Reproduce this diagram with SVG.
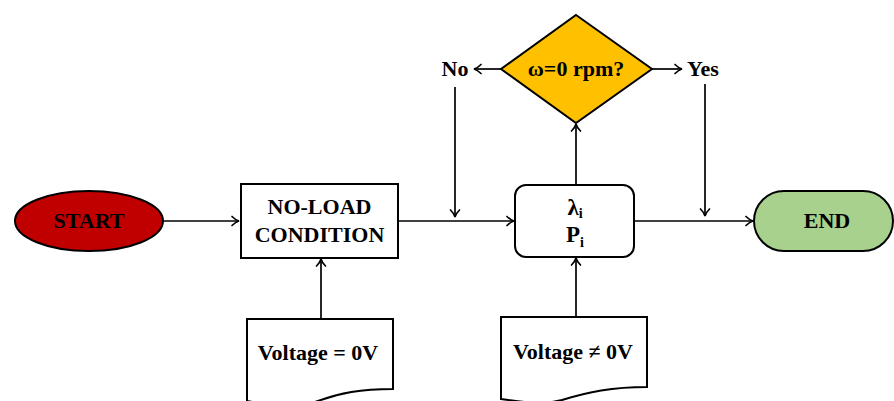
<svg xmlns="http://www.w3.org/2000/svg" width="894" height="401" viewBox="0 0 894 401">
<defs>
<style>
.shape{stroke:#000;stroke-width:2;}
.t{font-family:"Liberation Serif","Times New Roman",serif;font-weight:bold;font-size:22px;fill:#000;text-anchor:middle;}
.big{font-size:23px;}
.sub{font-size:14px;}
.conn{stroke:#000;stroke-width:1.7;fill:none;marker-end:url(#arr);}
</style>
<marker id="arr" markerUnits="userSpaceOnUse" viewBox="-10 -6 12 12" refX="0" refY="0" markerWidth="12" markerHeight="12" orient="auto">
<path d="M-7,-4.5 C-4.5,-2 -2,-0.5 0,0 C-2,0.5 -4.5,2 -7,4.5" fill="none" stroke="#000" stroke-width="1.7" stroke-linecap="round"/>
</marker>
</defs>
<rect width="894" height="401" fill="#fff"/>
<g id="connectors">
<line class="conn" x1="163" y1="221" x2="239" y2="221"/>
<line class="conn" x1="321" y1="319" x2="321" y2="259"/>
<line class="conn" x1="398" y1="221" x2="514" y2="221"/>
<line class="conn" x1="576" y1="185" x2="576" y2="124"/>
<line class="conn" x1="501" y1="69" x2="474" y2="69"/>
<line class="conn" x1="652" y1="69" x2="682" y2="69"/>
<line class="conn" x1="455" y1="87" x2="455" y2="217"/>
<line class="conn" x1="705" y1="84" x2="705" y2="216"/>
<line class="conn" x1="634" y1="221" x2="753" y2="221"/>
<line class="conn" x1="576" y1="317" x2="576" y2="258"/>
</g>
<g id="start">
<ellipse class="shape" cx="89" cy="221" rx="74" ry="30" fill="#C00000"/>
<text class="t" x="89" y="228">START</text>
</g>
<g id="noload">
<rect class="shape" x="241" y="184" width="157" height="74" fill="#fff"/>
<text class="t" x="319.5" y="214">NO-LOAD</text>
<text class="t" x="319.5" y="242">CONDITION</text>
</g>
<g id="doc0v">
<path class="shape" fill="#fff" d="M247,319 H393 V389 C360,389 340,393 318,401 C295,409 268,405 247,401 Z"/>
<text class="t" x="318" y="360">Voltage = 0V</text>
</g>
<g id="calc">
<rect class="shape" x="515" y="185" width="119" height="72" rx="11" fill="#fff"/>
<text class="t big" x="575" y="215">λ<tspan class="sub" dy="3">i</tspan></text>
<text class="t big" x="575" y="242">P<tspan class="sub" dy="5">i</tspan></text>
</g>
<g id="decision">
<polygon class="shape" points="576,15 652,69 576,123 501,69" fill="#FFC000"/>
<text class="t" x="576" y="76">ω=0 rpm?</text>
</g>
<g id="no">
<text class="t" x="455" y="76">No</text>
</g>
<g id="yes">
<text class="t" x="703" y="76">Yes</text>
</g>
<g id="docnot0v">
<path class="shape" fill="#fff" d="M501,317 H647 V387 C612,387 588,392 562,400 C540,406 518,401 501,399 Z"/>
<text class="t" x="573" y="359">Voltage ≠ 0V</text>
</g>
<g id="end">
<rect class="shape" x="754" y="191" width="139" height="60" rx="30" fill="#A9D18E"/>
<text class="t" x="827" y="228">END</text>
</g>
</svg>
